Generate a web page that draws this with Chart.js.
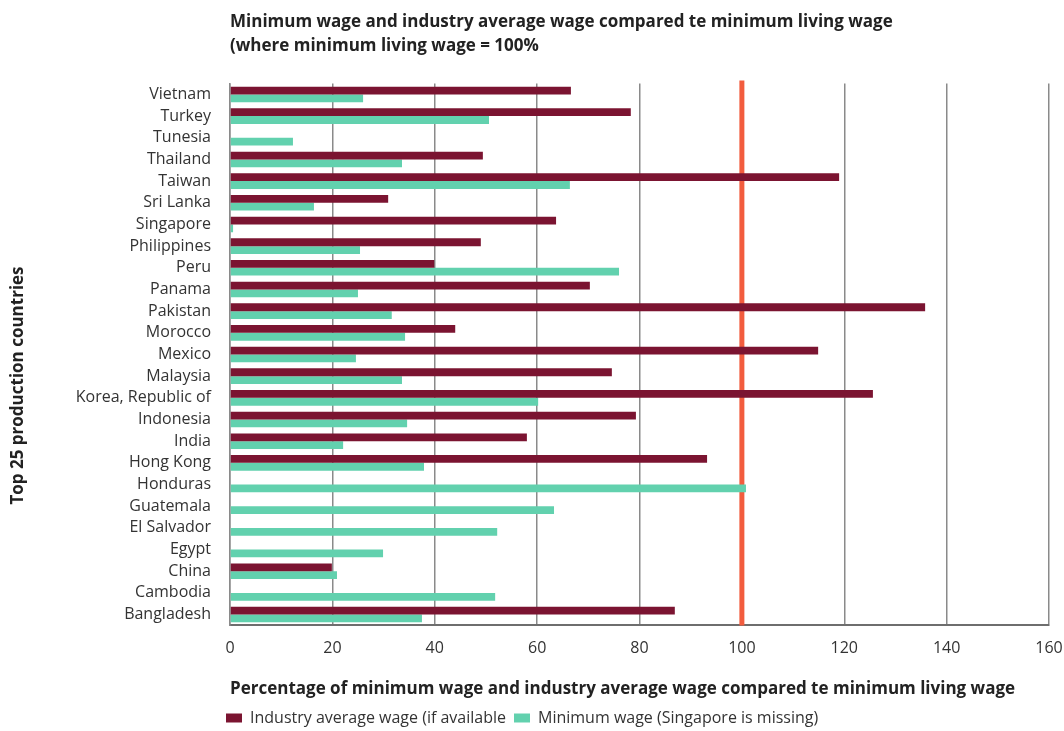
<!DOCTYPE html>
<html>
<head>
<meta charset="utf-8">
<script src="https://cdn.jsdelivr.net/npm/chart.js@4/dist/chart.umd.min.js"></script>
<style>
  html, body { margin: 0; padding: 0; background: #fff; }
  #wrap { width: 1064px; height: 731px; position: relative; }
</style>
</head>
<body>
<div id="wrap"><canvas id="wageChart"></canvas></div>
<script>
// countries, top to bottom
var countries = ["Vietnam", "Turkey", "Tunesia", "Thailand", "Taiwan", "Sri Lanka", "Singapore",
    "Philippines", "Peru", "Panama", "Pakistan", "Morocco", "Mexico", "Malaysia",
    "Korea, Republic of", "Indonesia", "India", "Hong Kong", "Honduras", "Guatemala",
    "El Salvador", "Egypt", "China", "Cambodia", "Bangladesh"];

// % of minimum living wage (null = no figure)
var industryAvg = [66.6, 78.3, null, 49.4, 119.0, 30.9, 63.7, 49.0, 39.9, 70.3, 135.8, 44.0,
    114.9, 74.6, 125.6, 79.3, 58.0, 93.2, null, null, null, null, 19.9, null, 86.9];
var minimumWage = [26.0, 50.6, 12.3, 33.6, 66.4, 16.4, 0.6, 25.4, 76.0, 25.0, 31.6, 34.2,
    24.6, 33.6, 60.2, 34.6, 22.1, 37.9, 100.8, 63.3, 52.2, 29.9, 20.9, 51.8, 37.5];

var seriesNames = ["Industry average wage (if available", "Minimum wage (Singapore is missing)"];
var yTitle = "Top 25 production countries";
var livingWage = 100;
var xMin = 0, xMax = 160, xStep = 20;

Chart.defaults.font.family = "'Open Sans', sans-serif";
Chart.defaults.color = "#333";

// thick line marking the living wage, under the bars
var livingWageLine = {
    id: "livingWageLine",
    beforeDatasetsDraw: chart => {
        let ctx = chart.ctx, area = chart.chartArea;
        let x = chart.scales.x.getPixelForValue(livingWage);
        ctx.save();
        ctx.strokeStyle = "#f25c3e";
        ctx.lineWidth = 5;
        ctx.beginPath();
        ctx.moveTo(x, area.top - 3);
        ctx.lineTo(x, area.bottom);
        ctx.stroke();
        ctx.restore();
    }
};

// legend starts a little left of the plot edge
var legendShift = {
    id: "legendShift",
    afterLayout: chart => {
        chart.legend.left -= 12;
        chart.legend.right -= 12;
    }
};

// rotated axis title, sitting a bit below the middle of the page
var sideTitle = {
    id: "sideTitle",
    afterDraw: chart => {
        let ctx = chart.ctx;
        ctx.save();
        ctx.translate(18, chart.height / 2 + 20);
        ctx.rotate(-Math.PI / 2);
        ctx.font = "bold 17px 'Open Sans', sans-serif";
        ctx.fillStyle = "#222";
        ctx.textAlign = "center";
        ctx.textBaseline = "middle";
        ctx.fillText(yTitle, 0, 0);
        ctx.restore();
    }
};

createChart = () => {
    chart = new Chart(document.getElementById("wageChart"), {
        type: "bar",
        data: {
            labels: countries,
            datasets: [
                {
                    label: seriesNames[0],
                    data: industryAvg,
                    backgroundColor: "#7b1431",
                    borderWidth: 0
                },
                {
                    label: seriesNames[1],
                    data: minimumWage,
                    backgroundColor: "#62d1ae",
                    borderWidth: 0
                }
            ]
        },
        plugins: [livingWageLine, legendShift, sideTitle],
        options: {
            indexAxis: "y",
            responsive: true,
            maintainAspectRatio: false,
            animation: false,
            categoryPercentage: 0.72,
            barPercentage: 1.0,
            layout: { padding: { left: 8, right: 15, top: 0, bottom: -5 } },
            plugins: {
                tooltip: { enabled: false },
                title: {
                    display: true,
                    fullSize: false,
                    align: "start",
                    text: ["Minimum wage and industry average wage compared te minimum living wage",
                        "(where minimum living wage = 100%"],
                    color: "#222",
                    font: { size: 17, weight: "bold", lineHeight: 1.4 },
                    padding: { top: 10, bottom: 26 }
                },
                legend: {
                    position: "bottom",
                    align: "start",
                    fullSize: false,
                    labels: {
                        boxWidth: 16,
                        boxHeight: 9,
                        padding: 8,
                        color: "#333",
                        font: { size: 16 }
                    }
                }
            },
            scales: {
                x: {
                    min: xMin,
                    max: xMax,
                    afterFit: scale => {
                        scale.paddingRight = 0;
                        scale.paddingLeft = 0;
                    },
                    ticks: { stepSize: xStep, padding: 13, color: "#333", font: { size: 16 } },
                    grid: { color: "#8a8a8a", lineWidth: 1.5, drawTicks: false },
                    border: { color: "#6e6e6e", width: 2 },
                    title: {
                        display: true,
                        align: "start",
                        text: "Percentage of minimum wage and industry average wage compared te minimum living wage",
                        color: "#222",
                        font: { size: 17, weight: "bold" },
                        padding: { top: 8, bottom: 3 }
                    }
                },
                y: {
                    afterFit: scale => {
                        scale.width = 222;
                        scale.paddingTop = 0;
                        scale.paddingBottom = 0;
                    },
                    ticks: { autoSkip: false, padding: 11, color: "#333", font: { size: 16 } },
                    grid: { display: false },
                    border: { display: true, color: "#8a8a8a", width: 1.5 },
                    title: { display: false }
                }
            }
        }
    });
}

createChart();
</script>
</body>
</html>
